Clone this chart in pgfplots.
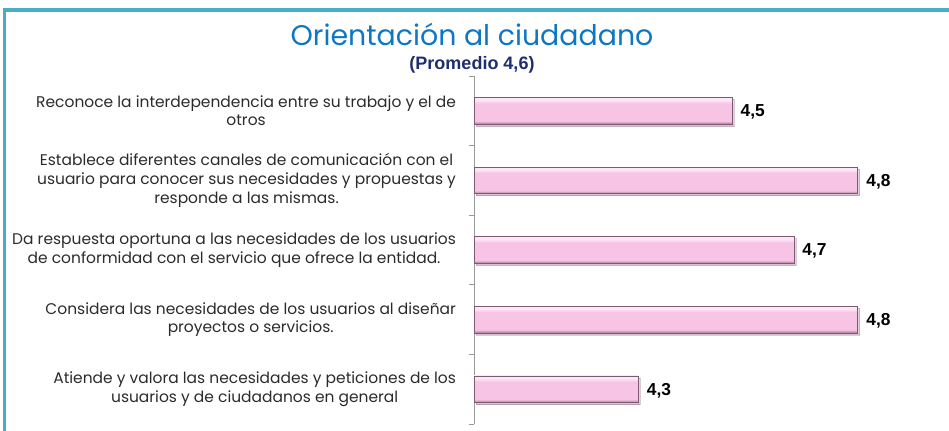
\documentclass[border=0pt]{standalone}
\usepackage{pgfplots}
\pgfplotsset{compat=1.18}
\usepackage{fontspec}
\setmainfont{Poppins}
\newfontfamily\valfont{Liberation Sans}
\usetikzlibrary{shadows}
\definecolor{frameblue}{HTML}{4BACC6}
\definecolor{titleblue}{HTML}{0E77C4}
\definecolor{subnavy}{HTML}{1F2F6E}
\definecolor{barpink}{HTML}{F8C4E6}
\definecolor{barlight}{HTML}{FDE6F5}
\definecolor{bardark}{HTML}{A87898}
\definecolor{baredge}{HTML}{7E5A72}
\definecolor{txt}{HTML}{2B2B2B}
\pgfdeclareverticalshading{barbevel}{100bp}{color(0bp)=(bardark); color(25bp)=(bardark); color(31bp)=(barpink); color(64bp)=(barpink); color(70bp)=(barlight); color(75bp)=(barlight); color(100bp)=(barlight)}
\pgfplotsset{pbar/.style={draw=baredge, line width=0.4pt, shading=barbevel, bar shift=0pt,
  drop shadow={shadow xshift=1.5pt, shadow yshift=-1.5pt, opacity=0.3}}}
\begin{document}
\begin{tikzpicture}[x=0.75pt,y=0.75pt]
\useasboundingbox (0,0) rectangle (949,431);
% frame
\draw[frameblue, line width=2.6pt] (4.5,-5) -- (4.5,421) -- (960,421);
% titles
\node[titleblue, inner sep=0pt, font=\fontsize{21.3}{25}\selectfont] at (472,397) {Orientación al ciudadano};
\node[subnavy, inner sep=0pt, font=\valfont\bfseries\fontsize{13.5}{15}\selectfont] at (472,366.5) {(Promedio 4,6)};
\begin{axis}[
  at={(355.5pt,5.25pt)}, anchor=south west,
  scale only axis,
  width=351.75pt, height=261pt,
  xmin=3.9, xmax=5.0,
  ymin=0.5, ymax=5.5,
  y dir=reverse,
  hide x axis,
  axis y line*=left,
  y axis line style={draw=gray!80, line width=0.6pt},
  ytick={1,2,3,4,5},
  yticklabels={
    {Reconoce la interdependencia entre su trabajo y el de\\otros},
    {Establece diferentes canales de comunicación con el\\usuario para conocer sus necesidades y propuestas y\\responde a las mismas.},
    {Da respuesta oportuna a las necesidades de los usuarios\\de conformidad con el servicio que ofrece la entidad.},
    {Considera las necesidades de los usuarios al diseñar\\proyectos o servicios.},
    {Atiende y valora las necesidades y peticiones de los\\usuarios y de ciudadanos en general}},
  yticklabel style={align=center, anchor=east, xshift=-10pt, text=txt,
    font=\fontsize{11.6}{14}\selectfont},
  major tick length=0pt,
  minor ytick={0.5,1.5,...,5.5},
  minor tick length=4pt,
  tick align=outside,
  minor tick style={draw=gray!80, line width=0.6pt},
  xbar, bar width=20pt,
  point meta=explicit symbolic,
  nodes near coords,
  nodes near coords style={font=\valfont\bfseries\fontsize{13}{15}\selectfont, text=black, anchor=west, xshift=3pt, yshift=-1pt},
]
\addplot[pbar] table[meta=lab] {
x y lab
4.505 1 4,5
};
\addplot[pbar] table[meta=lab] {
x y lab
4.80 2 4,8
};
\addplot[pbar] table[meta=lab] {
x y lab
4.65 3 4,7
};
\addplot[pbar] table[meta=lab] {
x y lab
4.80 4 4,8
};
\addplot[pbar] table[meta=lab] {
x y lab
4.285 5 4,3
};
\end{axis}
\end{tikzpicture}
\end{document}
